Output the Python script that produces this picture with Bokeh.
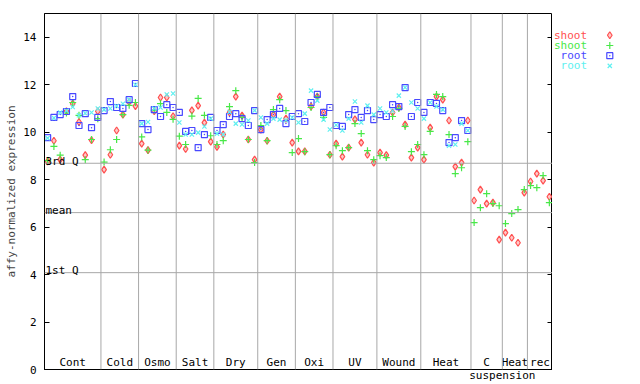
import numpy as np
from bokeh.plotting import figure
from bokeh.models import Range1d, LinearAxis, FixedTicker, Span, Label
from bokeh.layouts import row
from bokeh.embed import file_html
from bokeh.resources import INLINE
from bokeh.core.properties import value

# ---------------- data ----------------
groups = ["Cont", "Cold", "Osmo", "Salt", "Dry", "Gen", "Oxi", "UV", "Wound", "Heat", "C", "Heat", "rec"]
group_sizes = [9, 6, 6, 6, 7, 6, 6, 7, 7, 8, 5, 4, 4]
suspension_label = "suspension"

shoot_rep1 = [8.77, 9.64, 8.84, 10.88, 11.2, 10.43, 9.03, 9.66, 10.88,
              8.42, 9.05, 10.07, 10.74, 11.27, 11.1,
              9.52, 9.24, 10.88, 11.46, 11.46, 10.67,
              9.43, 9.29, 10.92, 11.12, 10.4, 9.6,
              9.38, 9.9, 10.83, 11.5, 10.7, 9.69, 8.84,
              10.11, 9.64, 10.74, 11.5, 10.57, 9.56,
              9.19, 9.19, 11.08, 11.5, 10.83, 9.05,
              9.52, 8.97, 9.35, 10.54, 9.56, 9.05, 8.72,
              9.14, 9.03, 10.83, 11.04, 10.32, 8.93, 9.35,
              8.84, 10.19, 11.5, 11.37, 10.49, 8.55, 8.72, 10.49,
              7.12, 7.58, 6.99, 7.03, 5.47,
              5.77, 5.55, 5.34, 7.45,
              7.92, 8.25, 7.96, 7.28]
shoot_rep2 = [8.8, 9.4, 9.03, 10.81, 11.25, 10.71, 8.84, 9.69, 10.57,
              8.74, 9.26, 9.69, 10.74, 11.13, 11.25,
              9.8, 9.24, 10.92, 11.2, 10.83, 10.54,
              9.83, 9.48, 10.68, 11.42, 10.71, 9.85,
              9.48, 9.64, 11.08, 11.75, 10.62, 9.69, 8.72,
              10.28, 9.64, 10.95, 11.37, 10.91, 9.14,
              9.73, 9.18, 11.04, 11.5, 10.62, 9.05,
              9.43, 9.22, 9.35, 10.36, 9.94, 9.22, 8.84,
              9.01, 8.93, 10.66, 11.0, 10.24, 9.18, 9.48,
              9.05, 10.03, 11.59, 11.5, 9.9, 8.25, 8.5, 9.6,
              6.19, 6.82, 7.41, 6.99, 6.9,
              6.15, 6.57, 6.74, 7.58,
              7.75, 7.66, 8.17, 7.03]
root_rep1 = [9.77, 10.62, 10.74, 10.87, 11.5, 10.28, 10.78, 10.19, 10.62,
             10.91, 11.29, 11.04, 11.0, 11.37, 12.05,
             10.36, 10.11, 10.95, 10.66, 11.16, 11.04,
             10.83, 10.03, 10.07, 9.35, 9.9, 10.62,
             10.07, 10.32, 10.66, 10.78, 10.57, 10.28, 10.91,
             10.11, 10.53, 10.74, 11.0, 10.36, 10.66,
             10.78, 10.45, 11.25, 11.59, 10.83, 11.04,
             10.28, 10.24, 10.74, 10.95, 10.62, 10.91, 10.53,
             10.74, 10.66, 11.16, 11.08, 11.88, 10.66, 11.25,
             10.83, 11.25, 11.21, 10.91, 9.56, 9.77, 10.49, 10.07]
root_rep2 = [9.75, 10.6, 10.83, 10.9, 11.06, 10.71, 10.8, 10.83, 11.0,
             10.95, 11.0, 11.1, 11.2, 11.37, 12.0,
             10.36, 10.43, 11.0, 11.04, 11.59, 11.63,
             10.41, 9.9, 9.9, 9.98, 10.24, 10.57,
             9.94, 9.9, 10.85, 10.36, 10.32, 10.49, 10.91,
             10.62, 10.36, 10.57, 10.53, 10.5, 10.62,
             10.41, 10.78, 11.75, 11.33, 10.53, 10.11,
             10.3, 10.07, 10.57, 11.29, 10.41, 11.12, 10.74,
             11.0, 10.83, 10.9, 11.54, 11.88, 11.25, 11.0,
             10.57, 11.25, 11.08, 10.95, 9.43, 9.48, 10.36, 10.07]

quartile_names = ["3rd Q", "mean", "1st Q"]
quartile_values = [8.69, 6.61, 4.08]
y_ticks = [0, 2, 4, 6, 8, 10, 12, 14]

series_names = ["shoot", "shoot", "root", "root"]
series_colors = ["#ff5050", "#48e848", "#4848ff", "#60f0f0"]
series_markers = ["diamond", "cross", "square_dot", "x"]
series_sizes = [7, 7, 6, 6]

FONT = "DejaVu Sans Mono"
FS = "11px"
GRID = "#a8a8a8"

n_total = sum(group_sizes)
bounds = np.cumsum(group_sizes)
starts = bounds - np.array(group_sizes)
centers = (starts + bounds) / 2.0

# ---------------- main figure ----------------
p = figure(width=552, height=384, x_range=Range1d(0, n_total), y_range=Range1d(0, 15),
           output_backend="svg", toolbar_location=None,
           x_axis_location=None, y_axis_location=None,
           min_border_left=44, min_border_right=0, min_border_top=13, min_border_bottom=15)
p.grid.visible = False
p.outline_line_color = "black"
p.outline_line_width = 1
p.background_fill_color = "white"
p.border_fill_color = "white"

yl = LinearAxis(ticker=FixedTicker(ticks=y_ticks))
yl.major_tick_in = 5
yl.major_tick_out = 0
yl.minor_tick_line_color = None
yl.axis_line_color = "black"
yl.major_label_text_font = FONT
yl.major_label_text_font_size = FS
yl.major_label_text_color = "black"
yl.major_label_standoff = 8
yl.axis_label = "affy-normalized expression"
yl.axis_label_text_font = FONT
yl.axis_label_text_font_size = FS
yl.axis_label_text_font_style = "normal"
yl.axis_label_standoff = 2
p.add_layout(yl, "left")

yr = LinearAxis(ticker=FixedTicker(ticks=y_ticks))
yr.major_tick_in = 5
yr.major_tick_out = 0
yr.minor_tick_line_color = None
yr.axis_line_color = "black"
yr.major_label_overrides = {t: "" for t in y_ticks}
yr.major_label_standoff = 0
p.add_layout(yr, "right")

# bottom axis: only carries the shared "suspension" caption under the last groups
susp_x = float(bounds[len(groups) - 3])
xb = LinearAxis(ticker=FixedTicker(ticks=[susp_x]))
xb.major_label_overrides = {susp_x: suspension_label}
xb.major_tick_in = 0
xb.major_tick_out = 0
xb.minor_tick_in = 0
xb.minor_tick_out = 0
xb.major_tick_line_color = None
xb.minor_tick_line_color = None
xb.axis_line_color = "black"
xb.major_label_text_font = FONT
xb.major_label_text_font_size = FS
xb.major_label_text_color = "black"
xb.major_label_standoff = -1
p.add_layout(xb, "below")

for b in bounds[:-1]:
    p.add_layout(Span(location=float(b), dimension="height", line_color=GRID, line_width=1))
for name, v in zip(quartile_names, quartile_values):
    p.add_layout(Span(location=v, dimension="width", line_color=GRID, line_width=1))
    p.add_layout(Label(x=0, y=v, text=name, x_offset=1, y_offset=2, text_baseline="alphabetic",
                       text_font=FONT, text_font_size=FS, text_color="black"))

p.text(x=list(centers), y=[0] * len(groups), text=groups, text_align="center",
       text_baseline="bottom", text_font=value(FONT), text_font_size=value(FS), text_color="black",
       y_offset=-1)

all_series = [shoot_rep1, shoot_rep2, root_rep1, root_rep2]
for vals, col, mk, sz in zip(all_series, series_colors, series_markers, series_sizes):
    xs = np.arange(len(vals)) + 0.5
    fill = "#ffc8c8" if mk == "diamond" else None
    p.scatter(x=xs, y=vals, marker=mk, size=sz, line_color=col, fill_color=fill, line_width=1.2)

# ---------------- legend figure ----------------
leg = figure(width=88, height=384, x_range=Range1d(0, 88), y_range=Range1d(384, 0),
             output_backend="svg", toolbar_location=None,
             x_axis_location=None, y_axis_location=None,
             min_border_left=0, min_border_right=0, min_border_top=0, min_border_bottom=0)
leg.grid.visible = False
leg.outline_line_color = None
leg_y = [23.5 + 11 * i for i in range(len(series_names))]
leg.text(x=[34.5] * 4, y=leg_y, text=series_names, text_align="right", text_baseline="middle",
         text_font=value(FONT), text_font_size=value(FS), text_color=series_colors)
for yy, col, mk, sz in zip(leg_y, series_colors, series_markers, series_sizes):
    fill = "#ffc8c8" if mk == "diamond" else None
    leg.scatter(x=[57.3], y=[yy], marker=mk, size=sz, line_color=col, fill_color=fill, line_width=1.2)

layout = row(p, leg)
open("out.html", "w").write(file_html(layout, INLINE))
